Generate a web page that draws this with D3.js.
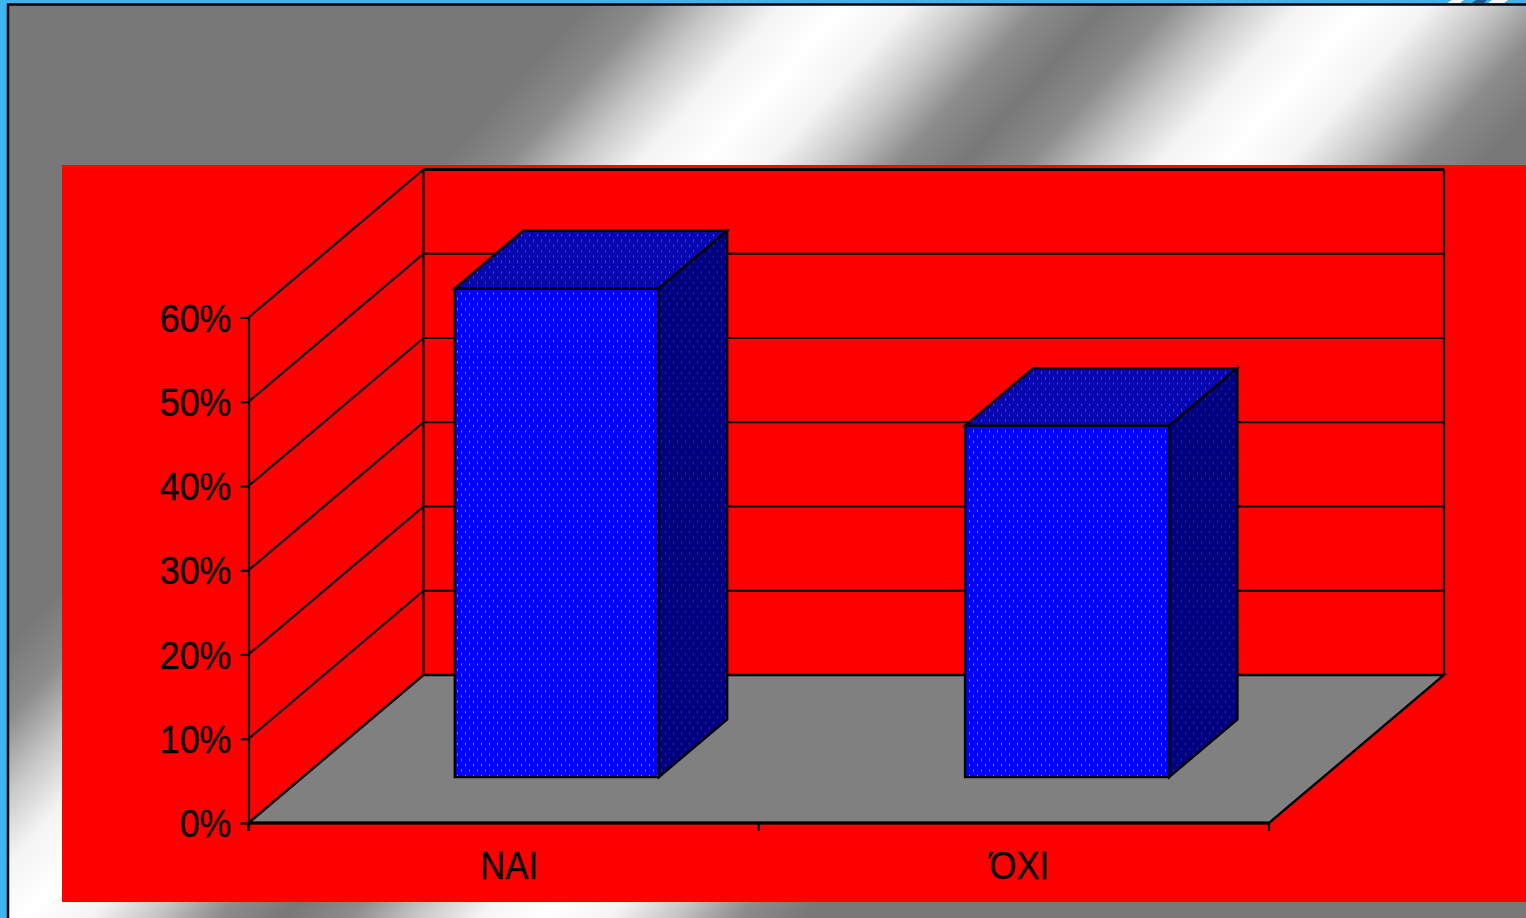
<!DOCTYPE html>
<html>
<head>
<meta charset="utf-8">
<script src="https://cdn.jsdelivr.net/npm/d3@7"></script>
<style>
    html, body { margin: 0; padding: 0; background: #3fb3f0; overflow: hidden; }
    svg { display: block; }
    text { font-family: "Liberation Sans", Arial, sans-serif; fill: #000; }
</style>
</head>
<body>
<div id="chart"></div>
<script>
const categories = ["ΝΑΙ", "ΌΧΙ"];
const values = [0.58, 0.417];
const yTicks = [0, 0.1, 0.2, 0.3, 0.4, 0.5, 0.6];

const width = 1526;
const height = 918;

const svg = d3.select("#chart").append("svg")
    .attr("width", width)
    .attr("height", height);
const defs = svg.append("defs");

// background sheen, two diagonal bands that go flat gray at both ends
const sheen = defs.append("linearGradient")
    .attr("id", "sheen")
    .attr("gradientUnits", "userSpaceOnUse")
    .attr("x1", 590).attr("y1", 0)
    .attr("x2", 1164.6).attr("y2", 517);
const sheenShades = ["#787878", "#8c8c8c", "#c6c6c6", "#f4f4f4", "#ffffff", "#f4f4f4", "#c6c6c6", "#8c8c8c",
                     "#787878", "#8c8c8c", "#c6c6c6", "#f4f4f4", "#ffffff", "#f4f4f4", "#c6c6c6", "#8c8c8c", "#787878"];
sheenShades.forEach((c, i) => {
    sheen.append("stop")
        .attr("offset", i / (sheenShades.length - 1))
        .attr("stop-color", c);
});

// dotted fill of the bars
function dotPattern(id, base, dot) {
    const p = defs.append("pattern")
        .attr("id", id)
        .attr("patternUnits", "userSpaceOnUse")
        .attr("width", 8)
        .attr("height", 10.6);
    p.append("rect").attr("width", 8).attr("height", 10.6).attr("fill", base);
    p.append("rect").attr("x", 1).attr("y", 1).attr("width", 1).attr("height", 2).attr("fill", dot);
    p.append("rect").attr("x", 5).attr("y", 6.3).attr("width", 1).attr("height", 2).attr("fill", dot);
}
dotPattern("dotsFront", "#0000ff", "#8f8fff");
dotPattern("dotsTop", "#0505b4", "#5050c8");
dotPattern("dotsSide", "#000080", "#3030a0");

// page frame
svg.append("rect")
    .attr("x", 8).attr("y", 4.5)
    .attr("width", width).attr("height", height)
    .attr("fill", "url(#sheen)")
    .attr("stroke", "#000")
    .attr("stroke-width", 2.5);

// bit of the picture peeking out above the frame
svg.append("path")
    .attr("d", "M1447 3L1452 0H1464L1460 3ZM1488 3L1492 0H1508L1504 3Z")
    .attr("fill", "#f2f6f8");
svg.append("path")
    .attr("d", "M1472 3L1476 0H1487L1484 3Z")
    .attr("fill", "#1c5c8c");

// chart area
svg.append("rect")
    .attr("x", 62).attr("y", 165)
    .attr("width", width - 62).attr("height", 737)
    .attr("fill", "#ff0000");

const g = svg.append("g");

const y = d3.scaleLinear().domain([0, 0.6]).range([823, 317.5]);
const x = d3.scaleBand().domain(categories).range([247.5, 1268]).paddingInner(0.6).paddingOuter(0.3);
const depthX = 175;
const depthY = 148;

// point on the chart: horizontal px on front edge, value, depth 0 (front) to 1 (back)
function project(px, v, d) {
    return [px + d * depthX, y(v) - d * depthY];
}
const line = d3.line();
const x0 = 248.5;
const x1 = 1269;
const vMax = yTicks[yTicks.length - 1];

function poly(pts, fill) {
    g.append("path")
        .attr("d", line(pts) + "Z")
        .attr("fill", fill)
        .attr("stroke", "#000")
        .attr("stroke-width", 2.4)
        .attr("stroke-linejoin", "miter");
}
function seg(a, b, w) {
    g.append("path")
        .attr("d", line([a, b]))
        .attr("stroke", "#000")
        .attr("fill", "none")
        .attr("stroke-width", w || 2.2);
}

// floor
poly([project(x0, 0, 0), project(x1, 0, 0), project(x1, 0, 1), project(x0, 0, 1)], "#808080");

// back wall and its gridlines, left wall lines
yTicks.forEach(t => {
    seg(project(x0, t, 1), project(x1, t, 1));
    if (t > 0) seg(project(x0, t, 0), project(x0, t, 1));
});
seg(project(x0, 0, 1), project(x0, vMax, 1));
seg(project(x1, 0, 1), project(x1, vMax, 1));
seg(project(x0, vMax, 1), project(x1, vMax, 1), 2.8);

// y axis
const yAxis = d3.axisLeft(y)
    .tickValues(yTicks)
    .tickFormat(d3.format(".0%"))
    .tickSize(8)
    .tickPadding(9);
const yAxisG = g.append("g").attr("transform", "translate(" + x0 + ",0)").call(yAxis);
yAxisG.select(".domain").attr("d", "M0.5," + y(vMax) + "V" + (y(0) + 8)).attr("stroke-width", 2.2);
yAxisG.selectAll(".tick line").attr("stroke-width", 2.2);
yAxisG.selectAll(".tick text")
    .attr("font-size", 39)
    .attr("font-family", "'Liberation Sans', Arial, sans-serif")
    .attr("x", 0)
    .attr("dy", 0)
    .attr("text-anchor", "end")
    .attr("stroke", "#000")
    .attr("stroke-width", 0.3)
    .attr("transform", "translate(-17,13.5) scale(0.92,1)");

// category axis, ticks sit between the categories
const step = x.step();
d3.range(categories.length + 1).forEach(i => {
    seg([x0 + i * step, y(0)], [x0 + i * step, y(0) + 8]);
});
seg(project(x0, 0, 0), project(x1, 0, 0), 2.8);

categories.forEach((c, i) => {
    g.append("text")
        .attr("font-size", 39)
        .attr("text-anchor", "middle")
        .attr("stroke", "#000")
        .attr("stroke-width", 0.3)
        .attr("transform", "translate(" + (x0 + (i + 0.5) * step + 5.5) + ",879) scale(0.89,1)")
        .text(c);
});

// bars
const d0 = 0.31;
const d1 = 0.70;
categories.forEach((c, i) => {
    const l = x(c);
    const r = l + x.bandwidth();
    const v = values[i];
    poly([project(l, 0, d0), project(r, 0, d0), project(r, v, d0), project(l, v, d0)], "url(#dotsFront)");
    poly([project(l, v, d0), project(r, v, d0), project(r, v, d1), project(l, v, d1)], "url(#dotsTop)");
    poly([project(r, 0, d0), project(r, 0, d1), project(r, v, d1), project(r, v, d0)], "url(#dotsSide)");
});
</script>
</body>
</html>
